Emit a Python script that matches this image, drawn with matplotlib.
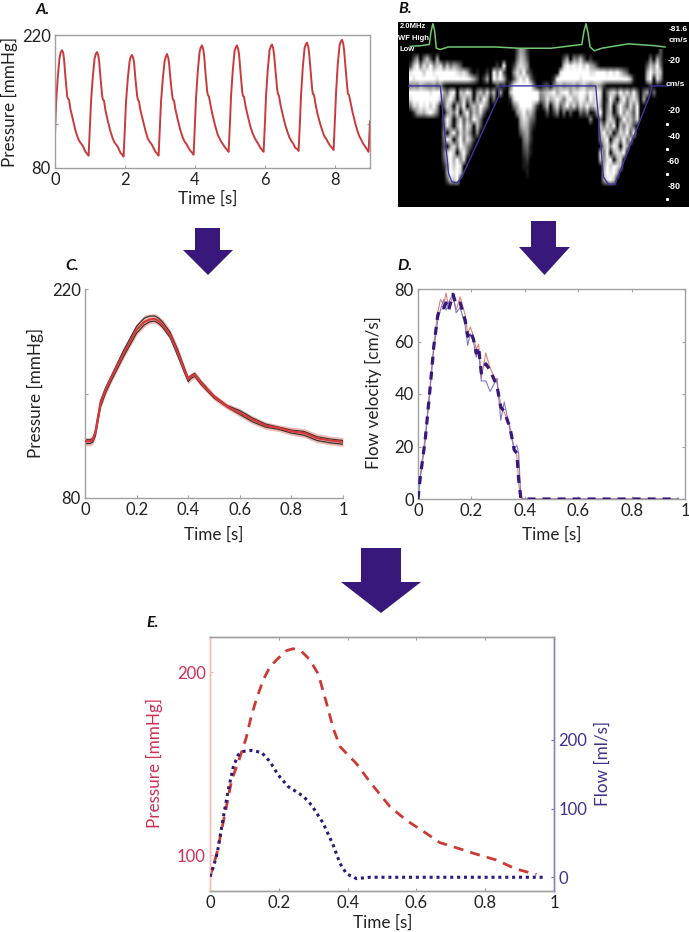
import numpy as np
import matplotlib
matplotlib.use("Agg")
import matplotlib.pyplot as plt
from matplotlib.patches import Polygon

plt.rcParams['font.family'] = ['Lato', 'DejaVu Sans']
W, H = 689, 932
INK = '#222222'
GRAY = '#a0a0a0'
RED = '#c93a3c'
PURPLE = '#39187c'
CRIMSON = '#cf2f55'
FLOW = '#44308a'

# ---------- Panel A ----------
a_phase = [0.00,0.03,0.08,0.13,0.165,0.20,0.235,0.26,0.30,0.35,0.37,0.40,0.44,0.50,0.58,0.65,0.70,0.76,0.80,0.87,0.92,0.96]
a_beat0 = [115,148,176,196,202,204,201,194,175,155,153,152,142,133,120,112,108,105,103,97,95,93]
a_beat1 = [125,150,176,195,200,202,199,193,175,155,152,151,141,131,119,111,107,104,102,96,94,92]
a_beat2 = [126,150,174,192,197,199,196,191,173,155,152,150,141,132,120,111,108,105,102,97,95,93]
a_beat3 = [127,150,174,192,197,200,196,190,173,156,152,151,142,132,120,112,108,105,102,98,96,94]
a_beat4 = [128,154,182,202,207,209,205,199,180,160,157,155,147,136,124,115,111,107,105,101,99,97]
a_beat5 = [128,156,183,203,207,209,205,199,181,160,156,155,146,136,124,116,112,108,106,101,99,97]
a_beat6 = [129,156,184,204,208,210,206,199,182,162,158,156,147,137,125,117,112,108,106,101,100,98]
a_beat7 = [130,157,186,206,210,212,208,201,184,162,158,157,148,137,126,118,113,110,107,103,101,99]
a_beat8 = [132,159,190,209,213,215,211,204,186,165,158,157,150,139,127,118,113,109,106,102,99,97]
a_end_time = [9.0]
a_end_value = [129]
a_xticks = [0, 2, 4, 6, 8]

# ---------- Panel B ----------
b_grid = [
 "0000000000" "0000000000" "0000000000" "0036520000" "0000000000" "0000000000" "0000000000" "00000300",
 "0360473060" "0000000000" "0000000000" "0047630000" "0000003605" "4730200000" "0000000000" "00406300",
 "2794869578" "3746530000" "0000002090" "0268750000" "0000007989" "8979652000" "0000000000" "03759400",
 "8999799899" "9999878620" "1002095930" "0586942000" "0000089999" "9999889998" "9897530000" "06968700",
 "9899999989" "9999999986" "3026097961" "0379794100" "0002999999" "9899999999" "9999997100" "07908500",
 "4546544535" "1000000000" "0000003020" "4999999400" "2304564556" "4675456520" "0000000000" "00200000",
 "9999998999" "6489076970" "5748370600" "7999999995" "6789689968" "8997989804" "7859685940" "46040000",
 "8999999997" "4796058460" "7496040000" "2899999994" "5867974896" "7985979703" "9506947860" "60000000",
 "4879897960" "3860749057" "5974000000" "0469999620" "3705836958" "4869679604" "8059638490" "00000000",
 "0267689740" "0574806937" "5830000000" "0057967400" "0302504030" "0425016905" "7049586390" "00000000",
 "0000000000" "4960583749" "7400000000" "0006874300" "0000000000" "0000500406" "8504967480" "00000000",
 "0000000000" "3850694860" "7300000000" "0005763100" "0000000000" "0000000748" "5907486300" "00000000",
 "0000000000" "5069385740" "5000000000" "0003562000" "0000000000" "0000000695" "7048693900" "00000000",
 "0000000000" "4970594862" "0000000000" "0000452000" "0000000000" "0000000579" "0685947000" "00000000",
 "0000000000" "3068497530" "0000000000" "0000341000" "0000000000" "0000000068" "5970860000" "00000000",
 "0000000000" "4897069400" "0000000000" "0000231000" "0000000000" "0000000849" "0687900000" "00000000",
 "0000000000" "3796958000" "0000000000" "0000120000" "0000000000" "0000000758" "9068000000" "00000000",
 "0000000000" "1597980000" "0000000000" "0000110000" "0000000000" "0000000069" "7986000000" "00000000",
 "0000000000" "0698970000" "0000000000" "0000010000" "0000000000" "0000000079" "8960000000" "00000000",
 "0000000000" "0387900000" "0000000000" "0000000000" "0000000000" "0000000068" "9700000000" "00000000",
 "0000000000" "0000000000" "0000000000" "0000000000" "0000000000" "0000000000" "0000000000" "00000000",
]
b_green_t = [0.08,0.146,0.204,0.217,0.228,0.239,0.25,0.276,0.33,0.46,0.635,0.787,1.0,1.2,1.215,1.228,1.241,1.254,1.283,1.33,1.504,1.678,1.743]
b_green_v = [31.5,32,33,44,49.5,44,30,29,31,31,31,30,30,33,44,49.5,42,31,28,30,33.5,32,31]
b_blue_t = [0.07,0.276,0.33,0.352,0.385,0.417,0.657,0.661,1.291,1.341,1.374,1.417,1.646,1.657,1.765]
b_blue_v = [0,0,-69.9,-76.5,-77.3,-72.5,-8.5,0,0,-72.5,-78.4,-78.4,-7.2,0,0]
b_ticks = [20, -20, -40, -60, -80]
b_tick_labels = ['-20', '-20', '-40', '-60', '-80']
b_minor = [-30, -50, -70, -90]

# ---------- Panel C ----------
c_t = [0,.02,.03,.04,.06,.08,.1,.15,.2,.23,.25,.27,.285,.3,.33,.36,.39,.4,.41,.425,.45,.5,.55,.6,.65,.7,.75,.8,.85,.9,.95,1]
c_mean = [118,118,119,123.5,143.5,152.5,160,177,192.8,198,199.5,200,198.7,196,189.4,177,163.7,159.7,161.5,162.6,157,148,141.4,137,132.5,128.5,127,124.7,123.5,120,118.6,117.5]
c_beat1 = [119,119,120,125,145,154,161,179,195,200.5,201.8,202,200.5,198,191,179,165,160.5,162,163.5,158,148.5,142,138.5,133.5,129.5,127.5,125.5,124.5,121,119.5,118.5]
c_beat2 = [116.5,116.5,117.5,121.5,141,150.5,158,175,190.5,196,198,198.5,197,194.5,187.5,175,162,158,160,161.5,156,147,141,136,131,127.5,126,123.5,122,118.5,117,116]
c_upper = [120.5,120.5,121.5,127,146.5,155.5,163,181,197,202.5,203.3,203.5,202,200,193,181,166.5,162,163.5,165,159.5,150,143.5,140,135,131,129,127.5,126.5,123,121.5,120.5]
c_lower = [115,115,116,120,139.5,149,156.5,173.5,189,194.5,196.7,197,195.5,193,186,173.5,160.5,156.5,158.5,160,154.5,145.5,139.5,134.5,129.5,126,124.5,122,120.5,117,115.5,114.5]
time_ticks = [0, .2, .4, .6, .8, 1]
time_labels = ['0', '0.2', '0.4', '0.6', '0.8', '1']

# ---------- Panel D ----------
d_t = [0,.009,.027,.046,.059,.074,.084,.096,.105,.115,.131,.143,.158,.177,.186,.196,.208,.218,.227,.237,.254,.27,.296,.31,.323,.345,.36,.37,.377,.385,.395,.975]
d_mean = [0,8.6,22.6,43,58,70,73,72.8,74.7,72,78,74,74.7,68,62,64,60.7,55.6,58,48,51.5,49,43,35,33.4,27,18.8,17.5,7.4,.4,0,0]
d_red = [0,9.5,24,44,59,71,76,74,78.5,73,77,72,77,70,63,65.5,62,57,59,46,55.6,50,44,36,33,27.5,19,16.5,6,.3,0,0]
d_blue = [0,8,22,42.5,57,68,72,76,72,75,78,71,73,66,58.5,63,60,54,57,45,45,41,46,30,37,26,19,20.5,17.5,1,0,0]
d_yticks = [0, 20, 40, 60, 80]

# ---------- Panel E ----------
e_p_t = [0,.02,.044,.063,.085,.105,.12,.136,.155,.174,.194,.223,.242,.266,.29,.315,.339,.358,.378,.4,.426,.465,.523,.571,.62,.668,.716,.765,.832,.89,.949]
e_p = [88,101,123,141,152.5,164,176,186,196,203,207,212,213,211.5,207,199,183,169.5,159.4,155,150,140,126.5,119,113,106.8,104,101,97.3,92.3,89.4]
e_f_t = [0,.01,.021,.039,.053,.068,.082,.097,.121,.15,.174,.198,.227,.271,.295,.329,.358,.378,.397,.426,.465,.978]
e_f = [1,15.5,35,88,127,161,178,183,184.5,181.5,168.4,149,132,118,105,78.6,47,20,5,-2,0,0]
e_p_ticks = [100, 200]
e_f_ticks = [0, 100, 200]

fig = plt.figure(figsize=(W / 100, H / 100), dpi=100, facecolor='white')
LABEL = 12.3


def axes_px(left, top, right, bottom):
    return fig.add_axes([left / W, 1 - bottom / H, (right - left) / W, (bottom - top) / H])


def style(ax, color=GRAY, fs=12):
    for s in ax.spines.values():
        s.set_color(color)
        s.set_linewidth(1.0)
    ax.tick_params(direction='in', length=2.5, width=0.8, color=color,
                   labelcolor=INK, labelsize=fs, pad=3)


def label_px(x, y, s, rotation=0, color=INK, size=LABEL, **kw):
    fig.text(x / W, 1 - y / H, s, rotation=rotation, color=color, size=size,
             ha='center', va='center', **kw)


def arrow_px(x0, x1, x2, x3, y0, y1, y2):
    pts = [(x1, y0), (x2, y0), (x2, y1), (x3, y1), ((x0 + x3) / 2, y2), (x0, y1), (x1, y1)]
    fig.add_artist(Polygon([(px / W, 1 - py / H) for px, py in pts], closed=True,
                           transform=fig.transFigure, facecolor=PURPLE, edgecolor='none'))


# A
axA = axes_px(55, 35, 370, 168)
style(axA)
a_t = np.concatenate([k + np.array(a_phase) for k in range(9)] + [a_end_time])
a_v = np.concatenate([a_beat0, a_beat1, a_beat2, a_beat3, a_beat4, a_beat5, a_beat6, a_beat7, a_beat8, a_end_value])
axA.plot(a_t, a_v, color=RED, lw=1.4)
axA.set_xlim(0, 9)
axA.set_ylim(80, 220)
axA.set_xticks(a_xticks)
axA.set_yticks([80, 126, 220])
axA.set_yticklabels(['80', '', '220'])
axA.tick_params(top=False, right=True)
label_px(208, 199, 'Time [s]')
label_px(9, 102, 'Pressure [mmHg]', rotation=90)

# B
axB = axes_px(398, 22, 689, 207)
axB.set_facecolor('black')
img = np.array([[int(c) for c in row] for row in b_grid], dtype=float) / 9
axB.imshow(img, extent=(0.07, 1.765, -83.2, 28.8), cmap='gray', vmin=0, vmax=1,
           interpolation='bilinear', aspect='auto', zorder=1)
axB.plot(b_blue_t, b_blue_v, color='#3f37a0', lw=1.0, zorder=3)
axB.plot(b_green_t, b_green_v, color='#72c872', lw=1.1, zorder=3)
axB.set_xlim(0, 1.9)
axB.set_ylim(-96.5, 50.9)
axB.set_xticks([])
axB.set_yticks([])
for s in axB.spines.values():
    s.set_visible(False)
NARROW = ['Liberation Sans Narrow', 'Liberation Sans']
for v, s in zip(b_ticks, b_tick_labels):
    axB.text(1.80, v, s, color='white', size=6.5, ha='center', va='center', weight='bold', family=NARROW)
axB.text(1.81, 0.8, 'cm/s', color='white', size=6, ha='center', va='center', weight='bold', family=NARROW)
axB.plot([1.755] * len(b_minor), b_minor, 's', color='white', ms=1.2, zorder=3)
axB.text(1.895, 44.8, '-81.6', color='white', size=6, ha='right', va='center', weight='bold', family=NARROW)
axB.text(1.895, 36.3, 'cm/s', color='white', size=6, ha='right', va='center', weight='bold', family=NARROW)
axB.text(0.10, 47.5, '2.0MHz', color='white', size=5.5, ha='center', va='center', weight='bold', family=NARROW)
axB.text(0.10, 38, 'WF High', color='white', size=5.5, ha='center', va='center', weight='bold', family=NARROW)
axB.text(0.06, 28.8, 'Low', color='white', size=5.5, ha='center', va='center', weight='bold', family=NARROW)

# C
axC = axes_px(85, 289, 343, 498)
style(axC)
axC.spines['top'].set_visible(False)
axC.spines['right'].set_visible(False)
axC.fill_between(c_t, c_lower, c_upper, color='#f0b9b0', lw=0, zorder=1)
axC.plot(c_t, c_beat1, color='#333333', lw=0.9, zorder=2)
axC.plot(c_t, c_beat2, color='#333333', lw=0.9, zorder=2)
axC.plot(c_t, c_mean, color='#d9383a', lw=1.6, zorder=3)
axC.set_xlim(0, 1)
axC.set_ylim(80, 220)
axC.set_xticks(time_ticks)
axC.set_xticklabels(time_labels)
axC.set_yticks([80, 150, 220])
axC.set_yticklabels(['80', '', '220'])
axC.tick_params(top=False, right=False)
label_px(214, 535, 'Time [s]')
label_px(35, 393, 'Pressure [mmHg]', rotation=90)

# D
axD = axes_px(418, 289, 685, 499)
style(axD)
axD.plot(d_t, d_red, color='#e0806f', lw=0.8, zorder=2)
axD.plot(d_t, d_blue, color='#7f78c0', lw=0.8, zorder=2)
axD.plot(d_t, d_mean, color=PURPLE, lw=2.3, ls=(0, (2.5, 2.2)), zorder=3)
axD.set_xlim(0, 1)
axD.set_ylim(0, 80)
axD.set_xticks(time_ticks)
axD.set_xticklabels(time_labels)
axD.set_yticks(d_yticks)
axD.tick_params(top=True, right=True)
label_px(552, 535, 'Time [s]')
label_px(373, 393, 'Flow velocity [cm/s]', rotation=90)

# E
axE = axes_px(210, 637, 554, 891)
style(axE)
axE.plot(e_p_t, e_p, color='#cc3a34', lw=2.0, ls=(0, (3.6, 2.6)), zorder=2)
axE.set_xlim(0, 1)
axE.set_ylim(80.3, 219.4)
axE.set_xticks(time_ticks)
axE.set_xticklabels(time_labels)
axE.set_yticks(e_p_ticks)
axE.tick_params(axis='x', top=True)
axE.tick_params(axis='y', labelcolor=CRIMSON, color='#eeb0a8', right=True)
axE2 = axE.twinx()
axE2.plot(e_f_t, e_f, color='#2d1a78', lw=2.2, ls=(0, (1, 1.25)), zorder=3)
axE2.set_ylim(-20, 349.5)
axE2.set_yticks(e_f_ticks)
style(axE2)
axE2.tick_params(axis='y', labelcolor=FLOW, color='#7b6fb0')
axE2.spines['left'].set_color('#f2bdb5')
axE2.spines['right'].set_color('#8a80b8')
axE.spines['left'].set_color('#f2bdb5')
axE.spines['right'].set_color('#8a80b8')
label_px(383, 923, 'Time [s]')
label_px(154, 763, 'Pressure [mmHg]', rotation=90, color=CRIMSON)
label_px(603, 763, 'Flow [ml/s]', rotation=90, color=FLOW)

# Arrows
arrow_px(183, 195, 220, 233, 228, 250, 275)
arrow_px(519, 531, 556, 570, 221, 247, 275)
arrow_px(341, 361, 401, 421, 548, 582, 613)

# Panel letters
for x, y, s in [(43, 10, 'A.'), (405, 9, 'B.'), (72, 266, 'C.'), (405, 266, 'D.'), (153, 623, 'E.')]:
    label_px(x, y, s, weight='bold', style='italic', size=11.5, color='#111111')

fig.savefig('out.png', dpi=100, facecolor='white')
